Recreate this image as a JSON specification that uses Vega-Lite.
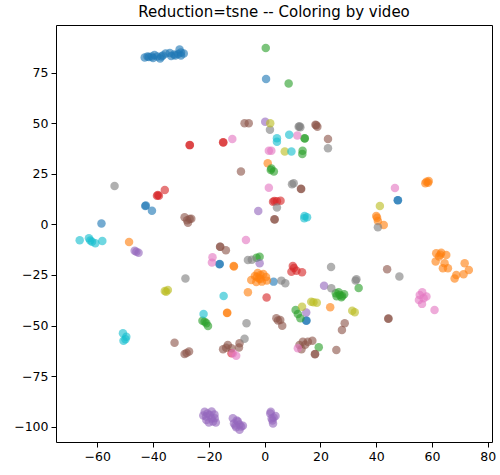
{
  "$schema": "https://vega.github.io/schema/vega-lite/v6.json",
  "autosize": {"type": "none"},
  "padding": {"left": 56, "top": 25, "right": 8, "bottom": 33},
  "width": 436,
  "height": 417,
  "title": {"text": "Reduction=tsne -- Coloring by video", "fontSize": 15, "fontWeight": "normal", "color": "black", "offset": 5, "font": "DejaVu Sans"},
  "config": {
    "font": "DejaVu Sans",
    "view": {"stroke": "black", "strokeWidth": 1},
    "axis": {"domain": false, "grid": false, "tickColor": "black", "tickSize": 5, "labelFontSize": 12.5, "labelColor": "black", "labelPadding": 3, "title": null, "labelFont": "DejaVu Sans"}
  },
  "data": {"values": [
    {"x": -43, "y": 82.5, "video": "v1"}, {"x": -41.5, "y": 82.8, "video": "v1"}, {"x": -40, "y": 82.3, "video": "v1"}, {"x": -38.5, "y": 83, "video": "v1"}, {"x": -37.5, "y": 82, "video": "v1"}, {"x": -36.5, "y": 83.5, "video": "v1"}, {"x": -35.5, "y": 84.5, "video": "v1"}, {"x": -33.5, "y": 83.3, "video": "v1"}, {"x": -32.5, "y": 84, "video": "v1"}, {"x": -31, "y": 84.3, "video": "v1"}, {"x": -30, "y": 83.5, "video": "v1"}, {"x": -29, "y": 84.5, "video": "v1"}, {"x": -30.5, "y": 86.5, "video": "v1"}, {"x": -39.5, "y": 83.8, "video": "v1"}, {"x": -42, "y": 83, "video": "v1"}, {"x": -34, "y": 84.8, "video": "v1"},
    {"x": -37, "y": 83, "video": "v1"}, {"x": -32, "y": 83.5, "video": "v1"}, {"x": -30, "y": 85, "video": "v1"}, {"x": -40.5, "y": 83, "video": "v1"},
    {"x": 0.5, "y": 71.9, "video": "v1"}, {"x": -42.8, "y": 9.1, "video": "v1"}, {"x": -42.6, "y": 9.3, "video": "v1"}, {"x": -40.4, "y": 6.8, "video": "v1"}, {"x": -58.5, "y": 0.5, "video": "v1"}, {"x": 47.7, "y": 11.9, "video": "v1"}, {"x": 47.8, "y": 12, "video": "v1"}, {"x": -16.2, "y": -19.7, "video": "v1"}, {"x": -16.1, "y": -19.6, "video": "v1"}, {"x": 3.2, "y": -28.3, "video": "v1"}, {"x": 14.9, "y": -47.6, "video": "v1"}, {"x": 15, "y": -47.5, "video": "v1"},

    {"x": 1.1, "y": 30.2, "video": "v2"}, {"x": 58, "y": 21.1, "video": "v2"}, {"x": 58.6, "y": 20.6, "video": "v2"}, {"x": 57.6, "y": 20.4, "video": "v2"}, {"x": 58.8, "y": 21.5, "video": "v2"}, {"x": 40, "y": 4.2, "video": "v2"}, {"x": 40.6, "y": 1.7, "video": "v2"}, {"x": 42.7, "y": -0.3, "video": "v2"}, {"x": 40.3, "y": 3.3, "video": "v2"}, {"x": -48.6, "y": -8.7, "video": "v2"},
    {"x": 61.5, "y": -14.3, "video": "v2"}, {"x": 63.3, "y": -14, "video": "v2"}, {"x": 65.1, "y": -15.1, "video": "v2"}, {"x": 62.5, "y": -15.9, "video": "v2"}, {"x": 61.3, "y": -18.4, "video": "v2"}, {"x": 64.5, "y": -19.2, "video": "v2"}, {"x": 63.9, "y": -21.7, "video": "v2"}, {"x": 65.7, "y": -21.7, "video": "v2"}, {"x": 68.7, "y": -25, "video": "v2"}, {"x": 68.1, "y": -26.7, "video": "v2"}, {"x": 71.3, "y": -24.7, "video": "v2"}, {"x": 71.7, "y": -19.2, "video": "v2"}, {"x": 73.2, "y": -22.5, "video": "v2"}, {"x": 63, "y": -15, "video": "v2"},
    {"x": -11.1, "y": -20.6, "video": "v2"}, {"x": -11, "y": -20.8, "video": "v2"}, {"x": -4.8, "y": -27.5, "video": "v2"}, {"x": -3.5, "y": -25.5, "video": "v2"}, {"x": -2.5, "y": -24, "video": "v2"}, {"x": -1.5, "y": -25, "video": "v2"}, {"x": -0.5, "y": -24.5, "video": "v2"}, {"x": 0.5, "y": -26, "video": "v2"}, {"x": -3, "y": -28.5, "video": "v2"}, {"x": -1, "y": -28.3, "video": "v2"}, {"x": 0.8, "y": -27.8, "video": "v2"}, {"x": -2, "y": -26.8, "video": "v2"}, {"x": -1.5, "y": -27, "video": "v2"}, {"x": -2.8, "y": -26, "video": "v2"}, {"x": -6, "y": -33.6, "video": "v2"}, {"x": -13.5, "y": -43.8, "video": "v2"}, {"x": -13.4, "y": -43.7, "video": "v2"}, {"x": 23.5, "y": -41, "video": "v2"},

    {"x": 0.4, "y": 87.2, "video": "v3"}, {"x": 8.6, "y": 69.7, "video": "v3"}, {"x": 14.3, "y": 42.6, "video": "v3"}, {"x": 14.4, "y": 42.5, "video": "v3"}, {"x": 13.6, "y": 36.4, "video": "v3"}, {"x": 13.5, "y": 34.8, "video": "v3"}, {"x": 2.4, "y": 27.7, "video": "v3"}, {"x": 2.2, "y": 26.9, "video": "v3"}, {"x": 3.3, "y": 26.1, "video": "v3"}, {"x": -2.9, "y": -16.5, "video": "v3"}, {"x": -1.8, "y": -16, "video": "v3"},
    {"x": 26.9, "y": -34.9, "video": "v3"}, {"x": 27.8, "y": -35.4, "video": "v3"}, {"x": 25.5, "y": -34, "video": "v3"}, {"x": 28.5, "y": -34.5, "video": "v3"}, {"x": 26.5, "y": -33.5, "video": "v3"}, {"x": 27.5, "y": -36, "video": "v3"}, {"x": 25.8, "y": -35.5, "video": "v3"}, {"x": 33.7, "y": -31.4, "video": "v3"},
    {"x": -20.9, "y": -48.9, "video": "v3"}, {"x": -21.5, "y": -48.1, "video": "v3"}, {"x": -20.3, "y": -50.2, "video": "v3"}, {"x": -22.3, "y": -47.6, "video": "v3"}, {"x": 11.1, "y": -42.3, "video": "v3"}, {"x": 11.9, "y": -44.3, "video": "v3"}, {"x": 12.8, "y": -46.4, "video": "v3"}, {"x": 19.4, "y": -60.8, "video": "v3"},

    {"x": -26.9, "y": 39.2, "video": "v4"}, {"x": -26.8, "y": 39.3, "video": "v4"}, {"x": -14.9, "y": 40.6, "video": "v4"}, {"x": -14.8, "y": 40.5, "video": "v4"}, {"x": -35.8, "y": 17, "video": "v4"}, {"x": -38.6, "y": 14.2, "video": "v4"}, {"x": -37.9, "y": 14.2, "video": "v4"}, {"x": -38.3, "y": 14.5, "video": "v4"}, {"x": 3, "y": 11.2, "video": "v4"}, {"x": 4.4, "y": 11.4, "video": "v4"}, {"x": 5.7, "y": 11.7, "video": "v4"}, {"x": 3.5, "y": 11.6, "video": "v4"},
    {"x": 10.1, "y": -20.6, "video": "v4"}, {"x": 9.6, "y": -23.4, "video": "v4"}, {"x": 11.4, "y": -22.9, "video": "v4"}, {"x": 13.4, "y": -23.7, "video": "v4"}, {"x": 10.5, "y": -21.5, "video": "v4"}, {"x": 0.7, "y": -36.2, "video": "v4"}, {"x": -11.9, "y": -63.7, "video": "v4"},

    {"x": 0.2, "y": 50.8, "video": "v5"}, {"x": -2.3, "y": 6.6, "video": "v5"}, {"x": -46.6, "y": -13, "video": "v5"}, {"x": -45.2, "y": -14, "video": "v5"}, {"x": -46, "y": -13.5, "video": "v5"}, {"x": -1.8, "y": -19.2, "video": "v5"}, {"x": 21.3, "y": -30.3, "video": "v5"}, {"x": 14.9, "y": -43.6, "video": "v5"},
    {"x": -21.5, "y": -92.6, "video": "v5"}, {"x": -19.7, "y": -94.2, "video": "v5"}, {"x": -17.9, "y": -95.8, "video": "v5"}, {"x": -20.9, "y": -96.7, "video": "v5"}, {"x": -18.5, "y": -97.5, "video": "v5"}, {"x": -22, "y": -94.5, "video": "v5"}, {"x": -19, "y": -92.5, "video": "v5"}, {"x": -17.5, "y": -98, "video": "v5"}, {"x": -20, "y": -98, "video": "v5"},
    {"x": -21, "y": -95, "video": "v5"}, {"x": -19, "y": -96, "video": "v5"}, {"x": -20.5, "y": -93.5, "video": "v5"}, {"x": -18, "y": -94, "video": "v5"},
    {"x": -11.4, "y": -95.8, "video": "v5"}, {"x": -9.6, "y": -97.5, "video": "v5"}, {"x": -8.4, "y": -100, "video": "v5"}, {"x": -10.2, "y": -100.3, "video": "v5"}, {"x": -7.8, "y": -99.6, "video": "v5"}, {"x": -9, "y": -101.5, "video": "v5"}, {"x": -11, "y": -98.5, "video": "v5"},
    {"x": -10, "y": -97, "video": "v5"}, {"x": -9, "y": -99, "video": "v5"}, {"x": -10.5, "y": -99.5, "video": "v5"},
    {"x": 2.2, "y": -92.6, "video": "v5"}, {"x": 3.9, "y": -94.7, "video": "v5"}, {"x": 2.8, "y": -97, "video": "v5"}, {"x": 3, "y": -98.5, "video": "v5"}, {"x": 2, "y": -93.5, "video": "v5"}, {"x": 3.2, "y": -95.5, "video": "v5"}, {"x": 2.5, "y": -96, "video": "v5"},

    {"x": -7.2, "y": 50, "video": "v6"}, {"x": -5.7, "y": 50, "video": "v6"}, {"x": 18.2, "y": 49.3, "video": "v6"}, {"x": 18.9, "y": 48.3, "video": "v6"}, {"x": 18.5, "y": 49, "video": "v6"}, {"x": 22.7, "y": 42.2, "video": "v6"}, {"x": -8.5, "y": 26.1, "video": "v6"}, {"x": 13, "y": 17.6, "video": "v6"}, {"x": 13.1, "y": 17.5, "video": "v6"},
    {"x": -28.7, "y": 3.5, "video": "v6"}, {"x": -26.9, "y": 2.7, "video": "v6"}, {"x": -27.5, "y": 0.8, "video": "v6"}, {"x": -26.3, "y": 2.8, "video": "v6"}, {"x": -27.8, "y": 2, "video": "v6"}, {"x": 3.5, "y": 2.5, "video": "v6"}, {"x": 3.6, "y": 2.4, "video": "v6"},
    {"x": -16, "y": -11, "video": "v6"}, {"x": -13.9, "y": -12.8, "video": "v6"}, {"x": -15.9, "y": -11.1, "video": "v6"}, {"x": 43.9, "y": -22.2, "video": "v6"},
    {"x": 4.2, "y": -46.4, "video": "v6"}, {"x": 5.6, "y": -47.3, "video": "v6"}, {"x": 6.3, "y": -50.1, "video": "v6"}, {"x": 4.8, "y": -47.5, "video": "v6"}, {"x": 28.7, "y": -48.9, "video": "v6"}, {"x": 27.7, "y": -52.2, "video": "v6"}, {"x": 44.3, "y": -46.6, "video": "v6"}, {"x": 44.4, "y": -46.5, "video": "v6"},
    {"x": -32.3, "y": -58.5, "video": "v6"}, {"x": -28.7, "y": -64.1, "video": "v6"}, {"x": -27.1, "y": -62.9, "video": "v6"}, {"x": -28, "y": -63.6, "video": "v6"},
    {"x": -14.9, "y": -61.7, "video": "v6"}, {"x": -13.2, "y": -59.6, "video": "v6"}, {"x": -11.9, "y": -61.3, "video": "v6"}, {"x": -9.2, "y": -60.9, "video": "v6"}, {"x": -9, "y": -58.8, "video": "v6"}, {"x": -13.8, "y": -61, "video": "v6"},
    {"x": 12.5, "y": -59.6, "video": "v6"}, {"x": 13.7, "y": -58, "video": "v6"}, {"x": 15.5, "y": -58, "video": "v6"}, {"x": 17.1, "y": -57.5, "video": "v6"}, {"x": 13.2, "y": -61.7, "video": "v6"}, {"x": 14.5, "y": -59.5, "video": "v6"}, {"x": 18, "y": -64.2, "video": "v6"}, {"x": 18.1, "y": -64.1, "video": "v6"}, {"x": 25.7, "y": -62.1, "video": "v6"},

    {"x": -11.6, "y": 42.2, "video": "v7"}, {"x": 1.5, "y": 36.4, "video": "v7"}, {"x": 2.4, "y": 36.4, "video": "v7"}, {"x": 11.7, "y": 44, "video": "v7"}, {"x": 1.5, "y": 18.1, "video": "v7"}, {"x": 46.7, "y": 18, "video": "v7"}, {"x": -6.7, "y": -7.7, "video": "v7"}, {"x": -18.7, "y": -16.3, "video": "v7"}, {"x": -18.9, "y": -18.9, "video": "v7"},
    {"x": 55.6, "y": -34.9, "video": "v7"}, {"x": 58, "y": -35.7, "video": "v7"}, {"x": 55.3, "y": -37.4, "video": "v7"}, {"x": 56.4, "y": -39.3, "video": "v7"}, {"x": 60.9, "y": -42.3, "video": "v7"}, {"x": 56.5, "y": -33.5, "video": "v7"}, {"x": 57, "y": -36.5, "video": "v7"},
    {"x": -11.4, "y": -63.7, "video": "v7"}, {"x": -10.2, "y": -64.9, "video": "v7"}, {"x": 11.9, "y": -61.2, "video": "v7"},

    {"x": 1.9, "y": 46.8, "video": "v8"}, {"x": 12.2, "y": 48.3, "video": "v8"}, {"x": 12.8, "y": 48, "video": "v8"}, {"x": 12.5, "y": 48.5, "video": "v8"}, {"x": 22.7, "y": 37.6, "video": "v8"}, {"x": -53.8, "y": 19, "video": "v8"}, {"x": 4.4, "y": 8.3, "video": "v8"}, {"x": 9.8, "y": 19.8, "video": "v8"}, {"x": 10.4, "y": 20.3, "video": "v8"}, {"x": 40.6, "y": -1.4, "video": "v8"},
    {"x": -6, "y": -17.6, "video": "v8"}, {"x": -4.6, "y": -17.5, "video": "v8"}, {"x": -28.4, "y": -26.8, "video": "v8"}, {"x": 23.8, "y": -21.1, "video": "v8"}, {"x": 48.3, "y": -25.8, "video": "v8"}, {"x": 6, "y": -27.8, "video": "v8"}, {"x": 7.4, "y": -29.1, "video": "v8"}, {"x": 23.9, "y": -31.6, "video": "v8"}, {"x": 32.9, "y": -27.1, "video": "v8"}, {"x": 32.6, "y": -27.8, "video": "v8"}, {"x": -6.5, "y": -48.9, "video": "v8"}, {"x": -7.2, "y": -56.5, "video": "v8"},

    {"x": 2, "y": 50, "video": "v9"}, {"x": 7.2, "y": 36.1, "video": "v9"}, {"x": 41.3, "y": 9.1, "video": "v9"}, {"x": -35.8, "y": -32.9, "video": "v9"}, {"x": -34.7, "y": -32.4, "video": "v9"}, {"x": -35.3, "y": -33.3, "video": "v9"}, {"x": 13.4, "y": -40.7, "video": "v9"}, {"x": 16.7, "y": -38.2, "video": "v9"}, {"x": 18.7, "y": -38.7, "video": "v9"}, {"x": 17.5, "y": -38.5, "video": "v9"}, {"x": 31.4, "y": -42.7, "video": "v9"}, {"x": 32.3, "y": -43.4, "video": "v9"},

    {"x": 4.4, "y": 42.6, "video": "v10"}, {"x": 4.4, "y": 40.9, "video": "v10"}, {"x": 8.8, "y": 44.3, "video": "v10"}, {"x": 9.6, "y": 36.1, "video": "v10"}, {"x": 14.3, "y": 4.2, "video": "v10"}, {"x": 14.2, "y": 3, "video": "v10"}, {"x": 15.2, "y": 3.5, "video": "v10"},
    {"x": -66.3, "y": -7.8, "video": "v10"}, {"x": -63, "y": -6.9, "video": "v10"}, {"x": -61.9, "y": -8.6, "video": "v10"}, {"x": -60.7, "y": -9.3, "video": "v10"}, {"x": -58.2, "y": -8.2, "video": "v10"}, {"x": -62.5, "y": -8, "video": "v10"},
    {"x": -14.7, "y": -35.4, "video": "v10"}, {"x": -21.9, "y": -44.3, "video": "v10"}, {"x": -50.8, "y": -53.8, "video": "v10"}, {"x": -49.9, "y": -56.8, "video": "v10"}, {"x": -49.6, "y": -55.5, "video": "v10"}, {"x": -50.6, "y": -57.5, "video": "v10"}
  ]},
  "mark": {"type": "circle", "size": 72, "opacity": 0.62},
  "encoding": {
    "x": {"field": "x", "type": "quantitative", "scale": {"domain": [-74.8, 81.5], "nice": false, "zero": false}, "axis": {"values": [-60, -40, -20, 0, 20, 40, 60, 80]}},
    "y": {"field": "y", "type": "quantitative", "scale": {"domain": [-107.6, 98.6], "nice": false, "zero": false}, "axis": {"values": [-100, -75, -50, -25, 0, 25, 50, 75]}},
    "color": {"field": "video", "type": "nominal", "legend": null, "scale": {"domain": ["v1", "v2", "v3", "v4", "v5", "v6", "v7", "v8", "v9", "v10"], "range": ["#1f77b4", "#ff7f0e", "#2ca02c", "#d62728", "#9467bd", "#8c564b", "#e377c2", "#7f7f7f", "#bcbd22", "#17becf"]}}
  }
}
